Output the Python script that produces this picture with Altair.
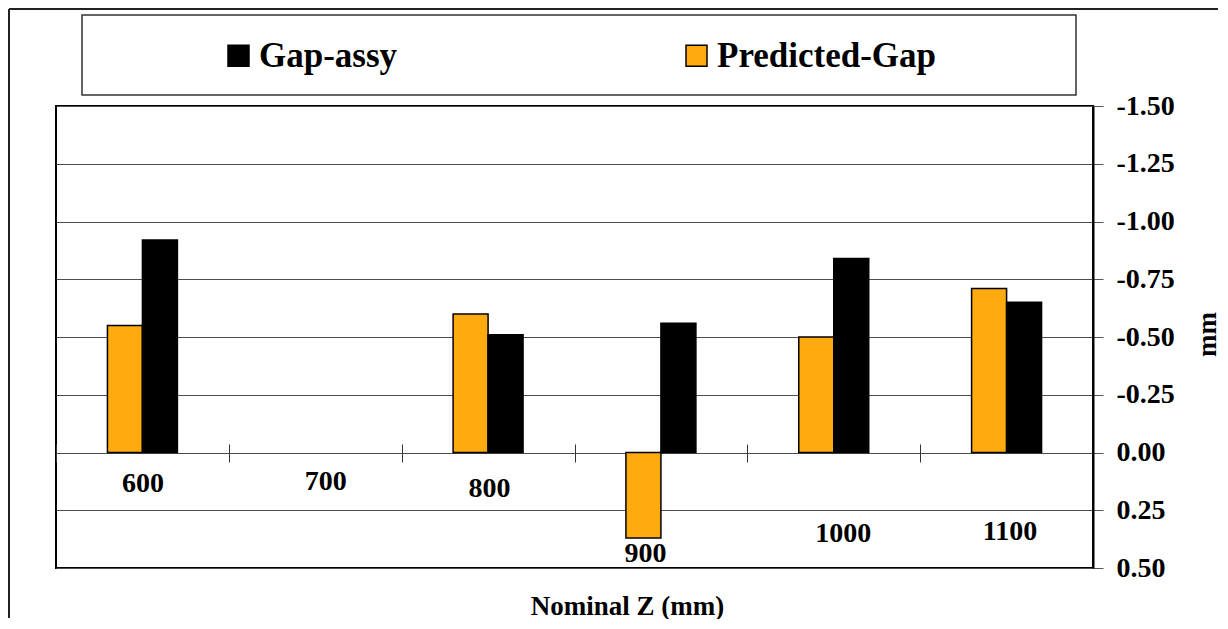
import altair as alt
import pandas as pd

# ---- data ----
categories = ["600", "700", "800", "900", "1000", "1100"]
gap_assy = [-0.92, None, -0.51, -0.56, -0.84, -0.65]
predicted_gap = [-0.55, None, -0.60, 0.37, -0.50, -0.71]
series_names = ["Gap-assy", "Predicted-Gap"]
series_colors = ["#000000", "#FFAB0F"]
y_ticks = [-1.5, -1.25, -1.0, -0.75, -0.5, -0.25, 0.0, 0.25, 0.5]

rows = []
for c, g, p in zip(categories, gap_assy, predicted_gap):
    if p is not None:
        rows.append({"z": c, "series": "Predicted-Gap", "value": p})
    if g is not None:
        rows.append({"z": c, "series": "Gap-assy", "value": g})
df = pd.DataFrame(rows)

# ---- styling (label nudges mimic the original's staggered category labels) ----
FONT = "Liberation Serif"
label_pad = {"600": 7, "700": 5, "800": 12, "900": 77, "1000": 57, "1100": 55}
label_shift = {"600": 0, "700": 10, "800": 1, "900": -16, "1000": 9, "1100": 3}

pad_cond = {"condition": [{"test": f"datum.value === '{k}'", "value": v} for k, v in label_pad.items()], "value": 7}
shift_cond = {"condition": [{"test": f"datum.value === '{k}'", "value": v} for k, v in label_shift.items()], "value": 0}

# empty slots either side of the bar pair give Excel's wide gap between groups
offset_domain = ["gapL", "Predicted-Gap", "Gap-assy", "gapR"]

W, H = 1037, 462

bars = alt.Chart(df).mark_bar(stroke="black", strokeWidth=1.5).encode(
    x=alt.X(
        "z:N",
        sort=categories,
        scale=alt.Scale(domain=categories, paddingInner=0, paddingOuter=0),
        axis=alt.Axis(
            orient="bottom",
            offset=-124,
            domain=False,
            grid=False,
            tickBand="extent",
            tickSize=18,
            tickColor="#333333",
            tickWidth=1,
            labelAngle=0,
            labelFont=FONT,
            labelFontWeight="bold",
            labelFontSize=28,
            labelColor="black",
            labelPadding=pad_cond,
            labelOffset=shift_cond,
            title="Nominal Z (mm)",
            titleFont=FONT,
            titleFontWeight="bold",
            titleFontSize=27,
            titleColor="black",
            titleX=571,
            titleY=170,
            titleAlign="center",
            titleBaseline="alphabetic",
        ),
    ),
    xOffset=alt.XOffset(
        "series:N",
        scale=alt.Scale(domain=offset_domain, paddingInner=0, paddingOuter=0.47),
    ),
    y=alt.Y(
        "value:Q",
        scale=alt.Scale(domain=[-1.5, 0.5], reverse=True, nice=False, zero=False),
        axis=alt.Axis(
            orient="right",
            values=y_ticks,
            labelExpr="replace(format(datum.value, '.2f'), '\u2212', '-')",
            domain=True,
            domainColor="black",
            domainWidth=2,
            grid=True,
            gridColor="#4d4d4d",
            gridWidth=1,
            tickSize=10,
            tickColor="#555555",
            labelPadding=13,
            labelAlign="left",
            labelBaseline="middle",
            labelFont=FONT,
            labelFontWeight="bold",
            labelFontSize=28,
            labelColor="black",
            title="mm",
            titleFont=FONT,
            titleFontWeight="bold",
            titleFontSize=27,
            titleColor="black",
            titleAngle=270,
            titleX=114,
            titleY=228,
            titleAlign="center",
            titleBaseline="middle",
        ),
    ),
    color=alt.Color(
        "series:N",
        scale=alt.Scale(domain=series_names, range=series_colors),
        legend=alt.Legend(
            title=None,
            orient="none",
            legendX=165,
            legendY=-68,
            direction="horizontal",
            columns=2,
            columnPadding=281,
            symbolType="square",
            symbolSize=441,
            symbolStrokeColor="black",
            symbolStrokeWidth=1.5,
            labelFont=FONT,
            labelFontWeight="bold",
            labelFontSize=35,
            labelColor="black",
            labelOffset=3,
            labelLimit=400,
            padding=0,
        ),
    ),
)

one = alt.Data(values=[{"k": 1}])

legend_box = alt.Chart(one).mark_rect(fillOpacity=0, stroke="#333333", strokeWidth=1.5).encode(
    x=alt.value(26), x2=alt.value(1020), y=alt.value(-91), y2=alt.value(-11)
)

frame_left = alt.Chart(one).mark_rule(color="#222222", strokeWidth=2).encode(
    x=alt.value(-47), y=alt.value(-97), y2=alt.value(512)
)
frame_top = alt.Chart(one).mark_rule(color="#222222", strokeWidth=2).encode(
    x=alt.value(-47), x2=alt.value(1162), y=alt.value(-97)
)

chart = (
    alt.layer(legend_box, frame_left, frame_top, bars)
    .properties(width=W, height=H, padding=0, background="white")
    .configure_view(stroke="black", strokeWidth=2)
)

chart.save("out.html", embed_options={"renderer": "svg", "actions": False})
